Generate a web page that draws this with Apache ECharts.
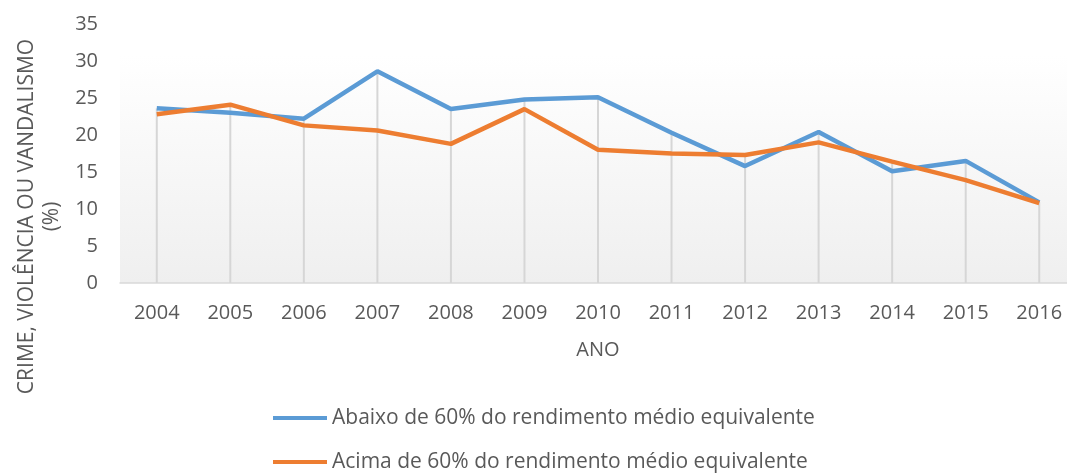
<!DOCTYPE html>
<html>
<head>
<meta charset="utf-8">
<script src="https://cdn.jsdelivr.net/npm/echarts@6/dist/echarts.min.js"></script>
<style>
	html, body { margin: 0; padding: 0; background: #fff; }
	#main { width: 1067px; height: 475px; }
</style>
</head>
<body>
<div id="main"></div>
<script>
var anos = ['2004', '2005', '2006', '2007', '2008', '2009', '2010', '2011', '2012', '2013', '2014', '2015', '2016'];
var abaixo = [23.6, 23.0, 22.2, 28.6, 23.5, 24.8, 25.1, 20.3, 15.8, 20.4, 15.1, 16.5, 10.9];
var acima = [22.8, 24.1, 21.3, 20.6, 18.8, 23.5, 18.0, 17.5, 17.3, 19.0, 16.4, 13.9, 10.8];
var nomeAbaixo = 'Abaixo de 60% do rendimento médio equivalente';
var nomeAcima = 'Acima de 60% do rendimento médio equivalente';

// linhas verticais: do ponto mais alto ate ao eixo
var linhasQueda = anos.map(function(a, i) {
	return Math.max(abaixo[i], acima[i]);
});

var fonte = '"Open Sans", sans-serif';
var cinza = '#595959';

var myChart = echarts.init(document.getElementById('main'));

var option = {
	animation : false,
	textStyle : { fontFamily : fonte },
	legend : {
		orient : 'vertical',
		left : 273,
		top : 406,
		height : 69,
		padding : 0,
		icon : 'rect',
		itemWidth : 54,
		itemHeight : 4,
		itemGap : 20,
		data : [ nomeAbaixo, nomeAcima ],
		textStyle : { fontSize : 21, lineHeight : 24, color : cinza, fontFamily : fonte }
	},
	grid : {
		left : 120,
		right : -9,
		top : 24,
		bottom : 192,
		outerBoundsMode : 'none',
		show : true,
		borderWidth : 0,
		backgroundColor : new echarts.graphic.LinearGradient(0, 0, 0, 1, [
			{ offset : 0, color : '#ffffff' },
			{ offset : 0.12, color : '#ffffff' },
			{ offset : 1, color : '#efefef' }
		])
	},
	xAxis : {
		type : 'category',
		data : anos,
		name : 'ANO',
		nameLocation : 'middle',
		nameGap : 57,
		nameTextStyle : { fontSize : 20, color : cinza, fontFamily : fonte },
		axisLine : { lineStyle : { color : '#d9d9d9', width : 1.5 } },
		axisTick : { show : false },
		axisLabel : { fontSize : 20, color : cinza, margin : 20, fontFamily : fonte }
	},
	yAxis : {
		type : 'value',
		min : 0,
		max : 35,
		interval : 5,
		name : 'CRIME, VIOLÊNCIA OU VANDALISMO\n(%)',
		nameLocation : 'middle',
		nameGap : 55,
		nameTextStyle : {
			fontSize : 21,
			color : cinza,
			fontFamily : fonte,
			lineHeight : 25,
			padding : [ 0, 126, 0, 0 ]
		},
		axisLine : { show : false },
		axisTick : { show : false },
		splitLine : { show : false },
		axisLabel : { fontSize : 20, color : cinza, margin : 22, fontFamily : fonte }
	},
	series : [ {
		name : 'queda',
		type : 'bar',
		data : linhasQueda,
		barWidth : 2,
		z : 1,
		silent : true,
		itemStyle : { color : '#d6d6d6' }
	}, {
		name : nomeAbaixo,
		type : 'line',
		data : abaixo,
		symbol : 'none',
		z : 3,
		lineStyle : { color : '#5b9bd5', width : 4.5 },
		itemStyle : { color : '#5b9bd5' }
	}, {
		name : nomeAcima,
		type : 'line',
		data : acima,
		symbol : 'none',
		z : 4,
		lineStyle : { color : '#ed7d31', width : 4.5 },
		itemStyle : { color : '#ed7d31' }
	} ]
};
myChart.setOption(option);
</script>
</body>
</html>
